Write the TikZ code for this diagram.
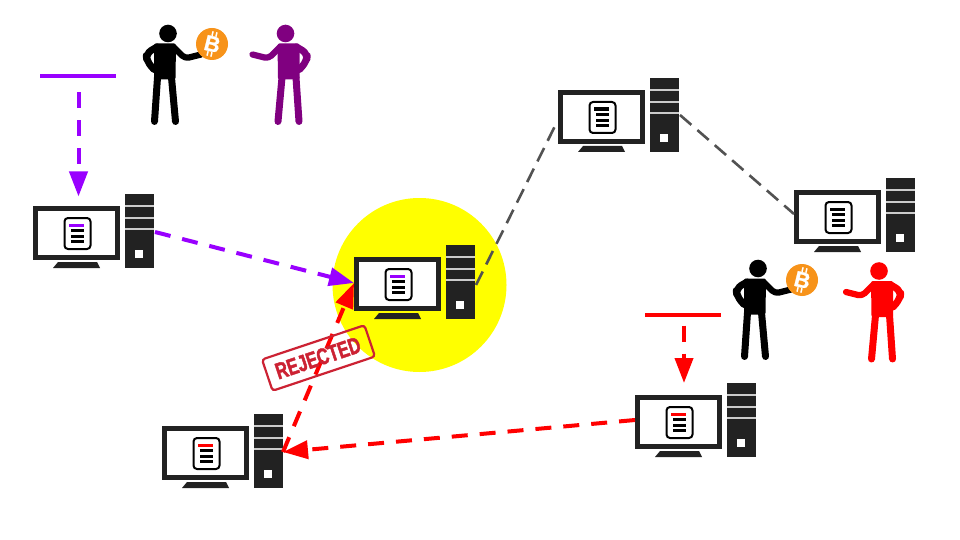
\documentclass[tikz,border=0pt]{standalone}
\usepackage{fontspec}
\setmainfont{Liberation Sans}
\newfontfamily\stampfont[FakeBold=1.8,FakeStretch=0.72]{Liberation Sans Bold}
\newfontfamily\coinfont[FakeBold=1]{Liberation Sans Bold}
\usetikzlibrary{arrows.meta}
\definecolor{pc}{HTML}{222222}
\definecolor{vio}{HTML}{9900FF}
\definecolor{purp}{HTML}{800080}
\definecolor{coin}{HTML}{F7931A}
\definecolor{stamp}{HTML}{CC2233}
\definecolor{hilite}{RGB}{255,255,0}
\definecolor{redc}{RGB}{255,0,0}
\tikzset{
  x=1pt,y=-1pt,
  flow/.style={line width=4pt,dash pattern=on 16pt off 12pt,-{Triangle[length=25pt,width=18pt]}},
  link/.style={line width=2.6pt,color=black!68,dash pattern=on 15pt off 8pt},
  bar/.style={line width=3.6pt},
  limb/.style={line width=7pt,line cap=round,line join=round},
  computer/.pic={
    \fill[pc] (0,12) rectangle (87,66);
    \fill[white] (5,17) rectangle (82,61);
    \fill[pc] (25,68) -- (64,68) -- (67,74) -- (20,74) -- cycle;
    \fill[pc] (92,0) rectangle (121,74);
    \foreach \yy in {11,23,34}{\fill[white!80!black] (92,\yy) rectangle (121,\yy+1.6);}
    \fill[white] (102,56) rectangle (110,64);
    \draw[black,line width=2pt,rounded corners=3.5pt,fill=white] (31.5,24) rectangle (57.5,55);
    \fill[#1] (36,29.5) rectangle (51,33);
    \foreach \yy in {36.7,42.3,47.7}{\fill[black] (37.5,\yy-1.3) rectangle (50.5,\yy+1.3);}
  },
  computer/.default=black,
  person/.pic={
    \fill[#1] (0,0) circle (8.8);
    \fill[#1,rounded corners=2pt] (-14,10) -- (8,10) -- (7.5,46) -- (-14,46) -- cycle;
    \draw[#1,limb] (-10.5,44) -- (-13.5,88);
    \draw[#1,limb] (3.5,44) -- (7.5,88);
    \draw[#1,limb,rounded corners=6pt] (-11,13.5) -- (-22,20) -- (-21,28) -- (-14,36);
    \draw[#1,limb,line width=6.2pt,rounded corners=4pt] (6,14) -- (17,25) -- (33,21);
  },
  person/.default=black,
  btc/.pic={
    \fill[coin] (0,0) circle (16);
    \draw[white,line width=1.5pt,rotate=-14] (-2,-12.5) -- (-2,-8) (2,-12.5) -- (2,-8) (-2,8) -- (-2,12.5) (2,8) -- (2,12.5);
    \node[rotate=-14,text=white,font=\coinfont\fontsize{22}{22}\selectfont,inner sep=0pt] (#1) at (0.4,0) {B};
  }
}
\begin{document}
\begin{tikzpicture}
\useasboundingbox (0,0) rectangle (960,540);
\fill[white] (0,0) rectangle (960,540);
\fill[hilite] (419.5,285) circle (87);

\pic at (33,194) {computer=vio};
\pic at (354,245) {computer=vio};
\pic at (558,78) {computer};
\pic at (794,178) {computer};
\pic at (635,383) {computer=redc};
\pic at (162,414) {computer=redc};

\coordinate (aOut) at (155,232);
\coordinate (aIn) at (78.5,196.5);
\coordinate (cL) at (354,283);
\coordinate (cR) at (476,285);
\coordinate (tL) at (557,122);
\coordinate (tR) at (680,115);
\coordinate (rL) at (794,214);
\coordinate (brL) at (635,420);
\coordinate (brIn) at (684,383);
\coordinate (blR) at (283,452);
\coordinate (purSrc) at (78.5,92.5);
\coordinate (redSrc) at (684,325.5);
\coordinate (purBarL) at (40,76);
\coordinate (purBarR) at (116,76);
\coordinate (redBarL) at (645,315);
\coordinate (redBarR) at (721,315);

\draw[bar,vio] (purBarL) -- (purBarR);
\draw[bar,redc] (redBarL) -- (redBarR);
\draw[flow,vio] (purSrc) -- (aIn);
\draw[flow,vio] (aOut) -- (cL);
\draw[flow,redc] (redSrc) -- (brIn);
\draw[flow,redc] (brL) -- (blR);
\draw[flow,redc] (blR) -- (cL);
\draw[link] (cR) -- (tL);
\draw[link] (tR) -- (rL);

\pic at (168,33.5) {person};
\pic[xscale=-1] at (285.5,33.5) {person=purp};
\pic at (212,44) {btc=coinA};
\pic at (758,268.5) {person};
\pic[xscale=-1] at (879,271) {person=redc};
\pic at (802,280) {btc=coinB};

\node[rotate=18.5,draw=stamp,line width=2.2pt,rounded corners=3pt,minimum width=108pt,minimum height=33pt,inner sep=0pt] (stampbox) at (318.5,358) {};
\node[rotate=18.5,text=stamp,inner sep=0pt,font=\stampfont\fontsize{23}{23}\selectfont] (stamptext) at (318,358) {REJECTED};
\end{tikzpicture}
\end{document}
